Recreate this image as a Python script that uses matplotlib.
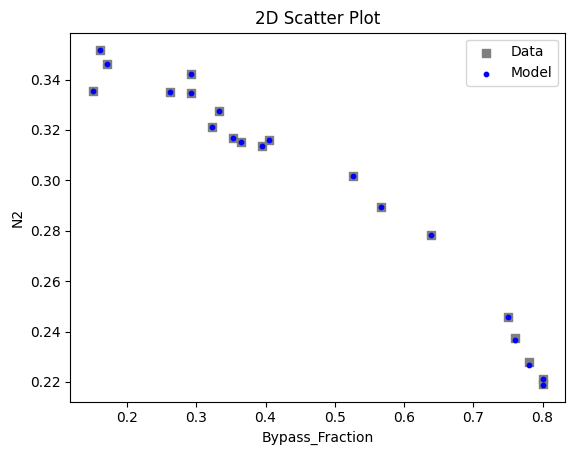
import matplotlib
matplotlib.use("Agg")
import matplotlib.pyplot as plt

# values
bypass_data = [0.161, 0.171, 0.2924, 0.1505, 0.262, 0.2924, 0.3328, 0.3227, 0.3525,
               0.3645, 0.3944, 0.405, 0.526, 0.5665, 0.6387, 0.7498, 0.7595, 0.780,
               0.800, 0.800]
n2_data = [0.3519, 0.3463, 0.3420, 0.3354, 0.3349, 0.3346, 0.3274, 0.3210, 0.3168,
           0.3151, 0.3135, 0.3160, 0.3016, 0.2893, 0.2782, 0.2459, 0.2374, 0.2280,
           0.2211, 0.2193]
n2_model = [0.3519, 0.3463, 0.3420, 0.3354, 0.3349, 0.3346, 0.3274, 0.3210, 0.3168,
            0.3151, 0.3135, 0.3160, 0.3016, 0.2893, 0.2782, 0.2459, 0.2366, 0.2267,
            0.2212, 0.2188]


def main():
    fig = plt.figure(figsize=(5.76, 4.55), dpi=100)
    ax = fig.add_axes([0.122, 0.117, 0.859, 0.811])
    ax.scatter(bypass_data, n2_data, marker="s", s=40, color="gray", label="Data")
    ax.scatter(bypass_data, n2_model, marker="o", s=10, color="blue", label="Model")
    ax.set_title("2D Scatter Plot")
    ax.set_xlabel("Bypass_Fraction")
    ax.set_ylabel("N2")
    ax.legend(loc="upper right")
    fig.savefig("out.png", dpi=100)


if __name__ == "__main__":
    main()
